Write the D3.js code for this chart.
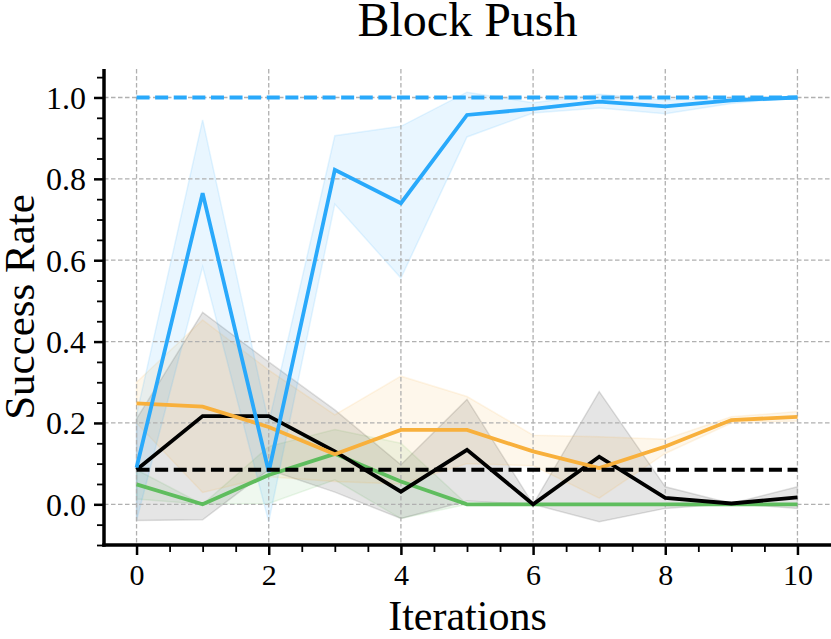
<!DOCTYPE html>
<html>
<head>
<meta charset="utf-8">
<script src="https://cdn.jsdelivr.net/npm/d3@7"></script>
<style>
  body { margin: 0; background: #fff; }
  svg { display: block; font-family: "Liberation Serif", "Times New Roman", serif; }
</style>
</head>
<body>
<div id="chart"></div>
<script>
// iterations on the x axis
var iterations = [0, 1, 2, 3, 4, 5, 6, 7, 8, 9, 10];

// blue method (mean + band)
var blueMean  = [0.09, 0.765, 0.08, 0.822, 0.74, 0.957, 0.972, 0.99, 0.978, 0.993, 1.0];
var blueUpper = [0.22, 0.945, 0.20, 0.906, 0.929, 1.013, 0.987, 1.008, 0.994, 1.0, 1.0];
var blueLower = [-0.04, 0.584, -0.043, 0.738, 0.556, 0.903, 0.962, 0.974, 0.96, 0.985, 1.0];

// orange method
var orangeMean  = [0.248, 0.24, 0.19, 0.123, 0.183, 0.183, 0.13, 0.089, 0.142, 0.207, 0.215];
var orangeUpper = [0.30, 0.453, 0.33, 0.22, 0.315, 0.265, 0.17, 0.166, 0.16, 0.215, 0.228];
var orangeLower = [0.20, 0.029, 0.068, 0.056, 0.05, 0.10, 0.095, 0.015, 0.125, 0.20, 0.205];

// black method
var blackMean  = [0.085, 0.217, 0.217, 0.13, 0.031, 0.134, 0.0, 0.117, 0.016, 0.002, 0.017];
var blackUpper = [0.21, 0.472, 0.35, 0.232, 0.097, 0.258, 0.0, 0.277, 0.043, 0.002, 0.043];
var blackLower = [-0.04, -0.038, 0.085, 0.03, -0.035, 0.008, 0.0, -0.043, -0.01, 0.002, -0.01];

// green method
var greenMean  = [0.049, 0.0, 0.072, 0.124, 0.056, 0.0, 0.0, 0.0, 0.0, 0.0, 0.0];
var greenUpper = [0.085, 0.0, 0.142, 0.184, 0.15, 0.0, 0.0, 0.0, 0.0, 0.0, 0.0];
var greenLower = [0.013, 0.0, 0.002, 0.06, -0.035, 0.0, 0.0, 0.0, 0.0, 0.0, 0.0];

// reference levels (dashed)
var blueRef = 1.0;
var blackRef = 0.085;

var xTicks = [0, 2, 4, 6, 8, 10];
var yTicks = [0.0, 0.2, 0.4, 0.6, 0.8, 1.0];

(function () {
    var width = 831, height = 639;
    var mLeft = 104, mRight = 831, mTop = 69, mBottom = 545;

    var svg = d3.select("#chart").append("svg")
        .attr("width", width).attr("height", height);

    var x = d3.scaleLinear().domain([-0.5, 10.5]).range([mLeft - 0.5, mRight - 0.5]);
    var y = d3.scaleLinear().domain([-0.1, 1.07]).range([mBottom, mTop]);

    var series = [
        { mean: greenMean, upper: greenUpper, lower: greenLower, color: "#5fbd5e" },
        { mean: blackMean, upper: blackUpper, lower: blackLower, color: "#000000" },
        { mean: orangeMean, upper: orangeUpper, lower: orangeLower, color: "#f8b03c" },
        { mean: blueMean, upper: blueUpper, lower: blueLower, color: "#29a9fb" }
    ];

    // bands first (under the grid, like matplotlib)
    var area = d3.area()
        .x(function (d) { return x(d.x); })
        .y0(function (d) { return y(d.lo); })
        .y1(function (d) { return y(d.hi); });

    series.forEach(function (s) {
        var pts = iterations.map(function (it, i) { return { x: it, lo: s.lower[i], hi: s.upper[i] }; });
        svg.append("path").datum(pts)
            .attr("d", area)
            .attr("fill", s.color).attr("fill-opacity", 0.1)
            .attr("stroke", s.color).attr("stroke-opacity", 0.12).attr("stroke-width", 1.5);
    });

    // grid
    var grid = svg.append("g").attr("stroke", "#b0b0b0").attr("stroke-width", 1.3)
        .attr("stroke-dasharray", "4.5,2.5");
    xTicks.forEach(function (t) {
        grid.append("line").attr("x1", x(t)).attr("x2", x(t)).attr("y1", mTop).attr("y2", mBottom);
    });
    yTicks.forEach(function (t) {
        grid.append("line").attr("x1", mLeft).attr("x2", mRight).attr("y1", y(t)).attr("y2", y(t));
    });

    // mean lines
    var line = d3.line()
        .x(function (d, i) { return x(iterations[i]); })
        .y(function (d) { return y(d); });

    series.forEach(function (s) {
        svg.append("path").datum(s.mean)
            .attr("d", line)
            .attr("fill", "none")
            .attr("stroke", s.color).attr("stroke-width", 3.8)
            .attr("stroke-linejoin", "miter");
    });

    // dashed reference lines
    [{ v: blueRef, c: "#29a9fb" }, { v: blackRef, c: "#000000" }].forEach(function (r) {
        svg.append("line")
            .attr("x1", x(0)).attr("x2", x(10))
            .attr("y1", y(r.v)).attr("y2", y(r.v))
            .attr("stroke", r.c).attr("stroke-width", 3.8)
            .attr("stroke-dasharray", "13,5.6");
    });

    // axes
    var xAxis = d3.axisBottom(x).tickValues(xTicks).tickFormat(d3.format("d"))
        .tickSize(10).tickPadding(9);
    var xMinor = d3.axisBottom(x).tickValues(d3.range(0.5, 10.01, 0.5).filter(function (v) { return v % 2 !== 0; }))
        .tickFormat("").tickSize(7);
    var yAxis = d3.axisLeft(y).tickValues(yTicks).tickFormat(d3.format(".1f"))
        .tickSize(10).tickPadding(8);
    var yMinor = d3.axisLeft(y).tickValues(d3.range(-0.1, 1.06, 0.05).filter(function (v) {
            return Math.abs(Math.round(v * 100) % 20) !== 0;
        }))
        .tickFormat("").tickSize(7);

    function styleAxis(g, major) {
        g.select(".domain").remove();
        g.selectAll(".tick line").attr("stroke", "#000").attr("stroke-width", major ? 2.5 : 1.8);
    }

    svg.append("g").attr("transform", "translate(0," + mBottom + ")").call(xMinor).call(styleAxis, false);
    var gx = svg.append("g").attr("transform", "translate(0," + mBottom + ")").call(xAxis).call(styleAxis, true);
    gx.selectAll(".tick text").attr("font-size", 30).attr("font-family", "Liberation Serif").attr("fill", "#000");

    svg.append("g").attr("transform", "translate(" + mLeft + ",0)").call(yMinor).call(styleAxis, false);
    var gy = svg.append("g").attr("transform", "translate(" + mLeft + ",0)").call(yAxis).call(styleAxis, true);
    gy.selectAll(".tick text").attr("font-size", 32).attr("font-family", "Liberation Serif").attr("fill", "#000")
        .attr("dy", "0.34em");

    // spines
    svg.append("line").attr("x1", mLeft).attr("x2", mLeft).attr("y1", mTop).attr("y2", mBottom + 1.75)
        .attr("stroke", "#000").attr("stroke-width", 3.5);
    svg.append("line").attr("x1", mLeft - 1.75).attr("x2", mRight).attr("y1", mBottom).attr("y2", mBottom)
        .attr("stroke", "#000").attr("stroke-width", 3.5);

    // labels
    svg.append("text").attr("x", (mLeft + mRight) / 2).attr("y", 36)
        .attr("text-anchor", "middle").attr("font-size", 48).text("Block Push");
    svg.append("text").attr("x", (mLeft + mRight) / 2).attr("y", 630)
        .attr("text-anchor", "middle").attr("font-size", 42).text("Iterations");
    svg.append("text").attr("transform", "translate(34," + ((mTop + mBottom) / 2) + ") rotate(-90)")
        .attr("text-anchor", "middle").attr("font-size", 43).text("Success Rate");
})();
</script>
</body>
</html>
